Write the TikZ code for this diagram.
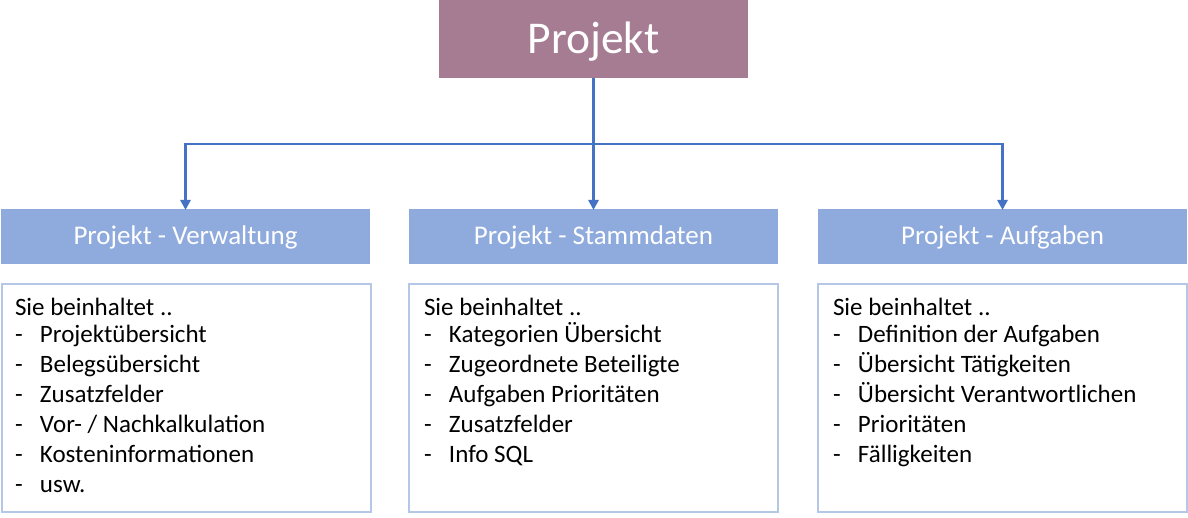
\documentclass[tikz,border=0pt]{standalone}
\usepackage{fontspec}
\setmainfont{Carlito}
\usetikzlibrary{arrows.meta}
\definecolor{mauve}{HTML}{A67C93}
\definecolor{hdrblue}{HTML}{8FAADC}
\definecolor{connblue}{HTML}{4472C4}
\definecolor{boxline}{HTML}{B4C7E7}
\newcommand{\itm}[1]{\makebox[25pt][l]{-}#1\par}
\tikzset{
  topbox/.style={fill=mauve, text=white, inner sep=0, outer sep=0, minimum width=309pt, minimum height=78pt, text height=30pt, text depth=0pt, font=\fontsize{45.5}{54}\selectfont},
  hdrbox/.style={fill=hdrblue, text=white, inner sep=0, outer sep=0, minimum width=369pt, minimum height=55pt, text height=17pt, text depth=0pt, font=\fontsize{27}{32}\selectfont},
  contbox/.style={draw=boxline, line width=1.5pt, fill=white, inner sep=0, outer sep=0, minimum width=369pt, minimum height=228pt},
  conttext/.style={anchor=base west, inner sep=0, outer sep=0},
  conn/.style={draw=connblue, line width=2.5pt, -{Triangle[width=10pt,length=10pt]}},
  connline/.style={draw=connblue, line width=2.5pt}
}
\newcommand{\boxtext}[1]{\parbox[t]{350pt}{\fontsize{25}{30}\selectfont #1}}
\begin{document}
\begin{tikzpicture}[x=1pt,y=-1pt]
\useasboundingbox (0,0) rectangle (1188,518);
\node[topbox] (top) at (593.5,39) {Projekt};
\node[hdrbox] (h1) at (185.5,236.5) {Projekt - Verwaltung};
\node[hdrbox] (h2) at (593.5,236.5) {Projekt - Stammdaten};
\node[hdrbox] (h3) at (1002.5,236.5) {Projekt - Aufgaben};
\node[contbox] (c1) at (186.5,398) {};
\node[contbox] (c2) at (593.5,398) {};
\node[contbox] (c3) at (1002.5,398) {};
\node[conttext] (t1) at (15,316) {\boxtext{Sie beinhaltet ..\par\vspace{-3pt}
\itm{Projektübersicht}\itm{Belegsübersicht}\itm{Zusatzfelder}\itm{Vor- / Nachkalkulation}\itm{Kosteninformationen}\itm{usw.}}};
\node[conttext] (t2) at (424,316) {\boxtext{Sie beinhaltet ..\par\vspace{-3pt}
\itm{Kategorien Übersicht}\itm{Zugeordnete Beteiligte}\itm{Aufgaben Prioritäten}\itm{Zusatzfelder}\itm{Info SQL}}};
\node[conttext] (t3) at (833,316) {\boxtext{Sie beinhaltet ..\par\vspace{-3pt}
\itm{Definition der Aufgaben}\itm{Übersicht Tätigkeiten}\itm{Übersicht Verantwortlichen}\itm{Prioritäten}\itm{Fälligkeiten}}};
\coordinate (bus) at (593.5,144);
\draw[connline] (top.south) -- (bus);
\draw[conn] (bus) -| ([yshift=-1pt]h1.north);
\draw[conn] (bus) -- ([yshift=-1pt]h2.north);
\draw[conn] (bus) -| ([yshift=-1pt]h3.north);
\end{tikzpicture}
\end{document}
